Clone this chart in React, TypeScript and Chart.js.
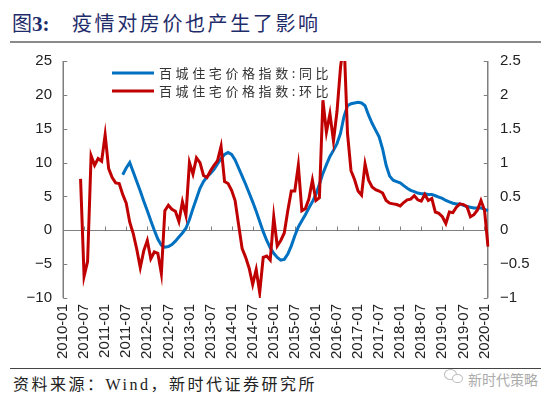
import React, { useEffect, useRef } from "react";
import { Chart, registerables } from "chart.js";

Chart.register(...registerables);

// ---- data ----
const YEARS = [2010, 2011, 2012, 2013, 2014, 2015, 2016, 2017, 2018, 2019, 2020];
const MONTHS: string[] = [];
YEARS.forEach((yr) => {
  for (let m = 1; m <= 12; m++) {
    if (yr === 2020 && m > 2) break;
    MONTHS.push(`${yr}-${m < 10 ? "0" + m : m}`);
  }
});

const LEGEND_LABELS = ["百城住宅价格指数:同比", "百城住宅价格指数:环比"];

// 同比 (%), left axis; starts 2011-06
const YOY: (number | null)[] = [
  null, null, null, null, null, null, null, null, null, null, null, null,
  null, null, null, null, null, 8.2, 9.2, 10.0, 8.6, 7.2, 5.8, 4.3,
  2.9, 1.4, 0.0, -1.3, -2.2, -2.5, -2.4, -2.1, -1.6, -1.0, -0.4, 0.3,
  1.6, 3.2, 4.7, 6.2, 7.2, 7.9, 8.4, 9.0, 9.8, 10.6, 11.2, 11.5,
  11.2, 10.4, 9.2, 8.0, 6.8, 5.5, 4.2, 2.8, 1.3, -0.2, -1.5, -2.6,
  -3.4, -4.0, -4.4, -4.3, -3.5, -2.3, -0.8, 0.5, 1.4, 2.3, 3.3, 4.2,
  5.3, 6.8, 8.4, 9.7, 10.9, 11.8, 12.8, 14.3, 16.8, 18.4, 18.7, 18.8,
  18.9, 18.8, 18.4, 17.0, 15.8, 14.8, 13.8, 12.0, 9.6, 8.0, 7.4, 7.2,
  7.0, 6.6, 6.2, 5.9, 5.7, 5.5, 5.4, 5.4, 5.3, 5.3, 5.1, 4.9,
  4.7, 4.4, 4.2, 4.0, 3.9, 3.9, 3.7, 3.5, 3.4, 3.3, 3.3, 3.3,
  3.1, 2.9,
];

// 环比 (%), right axis; starts 2010-06
const MOM: (number | null)[] = [
  null, null, null, null, null, 0.76, -0.68, -0.46, 1.10, 0.96, 1.06, 1.02,
  1.41, 0.91, 0.78, 0.70, 0.69, 0.53, 0.40, 0.12, -0.05, -0.28, -0.55, -0.30,
  -0.15, -0.42, -0.32, -0.34, -0.64, 0.29, 0.37, 0.31, 0.28, 0.13, 0.42, 0.22,
  1.00, 0.83, 1.07, 1.00, 0.81, 0.78, 0.88, 0.96, 1.03, 1.24, 0.72, 0.69,
  0.59, 0.44, 0.08, -0.27, -0.40, -0.56, -0.80, -0.58, -0.92, -0.40, -0.38, -0.44,
  0.20, -0.23, -0.15, -0.04, 0.29, 0.58, 0.58, 0.96, 0.29, 0.32, 0.46, 0.74,
  0.44, 0.48, 1.92, 1.45, 1.72, 1.32, 1.75, 2.40, 2.82, 1.43, 0.88, 0.75,
  0.58, 0.52, 0.98, 0.74, 0.64, 0.60, 0.58, 0.55, 0.44, 0.40, 0.39, 0.38,
  0.36, 0.41, 0.45, 0.46, 0.51, 0.45, 0.43, 0.53, 0.44, 0.47, 0.27, 0.25,
  0.20, 0.10, 0.27, 0.26, 0.34, 0.39, 0.38, 0.35, 0.20, 0.23, 0.30, 0.44,
  0.30, -0.24,
];

const BLUE = "#0070C0";
const RED = "#C00000";
const AXIS = "#7f7f7f";
const TICK_FONT = { family: '"Liberation Sans", Arial, sans-serif', size: 15 };

const minus = (s: string) => s.replace("-", "\u2212");

const customPlugin = {
  id: "customAxesLegend",
  beforeDatasetsDraw(chart: any) {
    const { ctx, chartArea: ca, scales } = chart;
    const x = scales.x, y = scales.y, y1 = scales.y1;
    const ln = (x1: number, yA: number, x2: number, yB: number) => {
      ctx.beginPath();
      ctx.moveTo(x1, yA);
      ctx.lineTo(x2, yB);
      ctx.stroke();
    };
    ctx.save();
    ctx.strokeStyle = AXIS;
    ctx.lineWidth = 1;
    const z = Math.round(y.getPixelForValue(0)) + 0.5;
    ln(ca.left, z, ca.right, z);
    for (let i = 0; i < MONTHS.length; i += 6) {
      const px = Math.round(x.getPixelForValue(i)) + 0.5;
      ln(px, z, px, z - 4);
    }
    ctx.lineWidth = 1.5;
    const L = Math.round(ca.left) + 0.25;
    const R = Math.round(ca.right) - 0.25;
    ln(L, ca.top, L, ca.bottom);
    ln(R, ca.top, R, ca.bottom);
    ctx.lineWidth = 1;
    y.ticks.forEach((t: any) => {
      const py = Math.round(y.getPixelForValue(t.value)) + 0.5;
      ln(L, py, L + 4, py);
    });
    y1.ticks.forEach((t: any) => {
      const py = Math.round(y1.getPixelForValue(t.value)) + 0.5;
      ln(R - 4, py, R, py);
    });
    ctx.restore();
  },
  afterDatasetsDraw(chart: any) {
    const { ctx, chartArea: ca } = chart;
    const colors = [BLUE, RED];
    ctx.save();
    ctx.font = '13px "Noto Sans CJK SC", sans-serif';
    ctx.textBaseline = "middle";
    ctx.fillStyle = "#333";
    try {
      (ctx as any).letterSpacing = "3.6px";
    } catch (e) {}
    LEGEND_LABELS.forEach((lab, i) => {
      const yy = ca.top + 12 + i * 18;
      ctx.strokeStyle = colors[i];
      ctx.lineWidth = 3;
      ctx.beginPath();
      ctx.moveTo(ca.left + 49, yy);
      ctx.lineTo(ca.left + 91, yy);
      ctx.stroke();
      ctx.fillText(lab, ca.left + 96, yy);
    });
    ctx.restore();
  },
};

function ChartCanvas() {
  const ref = useRef<HTMLCanvasElement | null>(null);
  useEffect(() => {
    if (!ref.current) return;
    const chart = new Chart(ref.current, {
      type: "line",
      data: {
        labels: MONTHS,
        datasets: [
          {
            label: LEGEND_LABELS[0],
            data: YOY,
            yAxisID: "y",
            borderColor: BLUE,
            backgroundColor: BLUE,
            borderWidth: 3,
            pointRadius: 0,
            tension: 0,
            order: 2,
          },
          {
            label: LEGEND_LABELS[1],
            data: MOM,
            yAxisID: "y1",
            borderColor: RED,
            backgroundColor: RED,
            borderWidth: 3,
            pointRadius: 0,
            tension: 0,
            order: 1,
          },
        ],
      },
      options: {
        responsive: false,
        animation: false,
        layout: { padding: { top: 12, bottom: 0, left: 0, right: 0 } },
        plugins: { legend: { display: false }, tooltip: { enabled: false } },
        scales: {
          x: {
            type: "category",
            offset: false,
            grid: { display: false, drawTicks: false },
            border: { display: false },
            ticks: {
              autoSkip: false,
              maxRotation: 90,
              minRotation: 90,
              padding: 6,
              color: "#222",
              font: TICK_FONT,
              callback: (_v: any, i: number) => (i % 6 === 0 ? MONTHS[i] : null),
            },
            afterFit: (s: any) => {
              s.height = 66;
            },
          },
          y: {
            position: "left",
            min: -10,
            max: 25,
            grid: { display: false, drawTicks: false },
            border: { display: false },
            ticks: {
              stepSize: 5,
              padding: 11,
              color: "#222",
              font: TICK_FONT,
              callback: (v: any) => minus(String(v)),
            },
            afterFit: (s: any) => {
              s.width = 63;
            },
          },
          y1: {
            position: "right",
            min: -1,
            max: 2.5,
            grid: { display: false, drawTicks: false },
            border: { display: false },
            ticks: {
              stepSize: 0.5,
              padding: 12,
              color: "#222",
              font: TICK_FONT,
              callback: (v: any) => minus(String(Math.round(Number(v) * 10) / 10)),
            },
            afterFit: (s: any) => {
              s.width = 62;
            },
          },
        },
      },
      plugins: [customPlugin],
    } as any);
    return () => chart.destroy();
  }, []);
  return (
    <canvas
      ref={ref}
      width={550}
      height={324}
      style={{ position: "absolute", left: 0, top: 40, width: 550, height: 324 }}
    />
  );
}

export default function App() {
  const NAVY = "#1f2c6b";
  return (
    <div
      style={{
        position: "fixed",
        left: 0,
        top: 0,
        width: 550,
        height: 398,
        background: "#fff",
        overflow: "hidden",
      }}
    >
      <div
        style={{
          position: "absolute",
          left: 12,
          top: 10,
          fontSize: 20,
          lineHeight: "26px",
          color: NAVY,
          whiteSpace: "nowrap",
          fontFamily: '"Noto Sans CJK SC", sans-serif',
        }}
      >
        <span>图</span>
        <span style={{ fontFamily: '"Liberation Serif", serif', fontWeight: "bold", fontSize: 21 }}>3:</span>
        <span style={{ position: "absolute", left: 60, top: 0, letterSpacing: 2.6 }}>
          疫情对房价也产生了影响
        </span>
      </div>
      <div style={{ position: "absolute", left: 10, top: 41, width: 531, height: 2, background: "#8a8a8a" }} />
      <ChartCanvas />
      <div style={{ position: "absolute", left: 10, top: 368, width: 531, height: 1, background: "#444" }} />
      <div
        style={{
          position: "absolute",
          left: 13,
          top: 375,
          fontSize: 16,
          lineHeight: "20px",
          color: "#222",
          whiteSpace: "nowrap",
          letterSpacing: 2.5,
          fontFamily: '"Liberation Serif", "Noto Sans CJK SC", serif',
        }}
      >
        资料来源：Wind，新时代证券研究所
      </div>
      <div
        style={{
          position: "absolute",
          left: 444,
          top: 369,
          width: 13,
          height: 11,
          borderRadius: "50%",
          border: "1.5px solid #bdbdbd",
          boxSizing: "border-box",
        }}
      />
      <div
        style={{
          position: "absolute",
          left: 452,
          top: 374,
          width: 11,
          height: 9,
          borderRadius: "50%",
          border: "1.5px solid #bdbdbd",
          background: "#fff",
          boxSizing: "border-box",
        }}
      />
      <div
        style={{
          position: "absolute",
          left: 468,
          top: 370,
          fontSize: 14,
          lineHeight: "18px",
          color: "#ababab",
          whiteSpace: "nowrap",
          fontFamily: '"Noto Sans CJK SC", sans-serif',
        }}
      >
        新时代策略
      </div>
    </div>
  );
}
